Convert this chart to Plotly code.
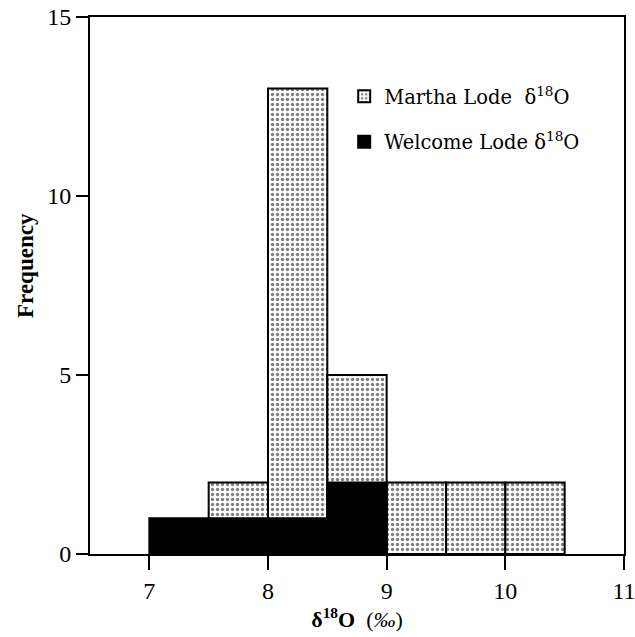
import plotly.graph_objects as go

bin_centers_martha = [7.75, 8.25, 8.75, 9.25, 9.75, 10.25]
martha_counts = [2, 13, 5, 2, 2, 2]
bin_centers_welcome = [7.25, 7.75, 8.25, 8.75]
welcome_counts = [1, 1, 1, 2]
bin_width = 0.5
x_ticks = [7, 8, 9, 10, 11]
y_ticks = [0, 5, 10, 15]

FONT = "Liberation Serif, Times New Roman, serif"
LFONT = "DejaVu Serif, serif"

fig = go.Figure()
fig.add_trace(go.Bar(
    x=bin_centers_martha, y=martha_counts, width=bin_width,
    name="Martha Lode  δ<sup>18</sup>O", legendgroup="m",
    marker=dict(color="white", line=dict(color="black", width=2),
                pattern=dict(shape=".", fgcolor="black", bgcolor="white", size=5, solidity=0.35)),
))
fig.add_trace(go.Bar(
    x=bin_centers_welcome, y=welcome_counts, width=bin_width,
    name="Welcome Lode δ<sup>18</sup>O", legendgroup="w",
    marker=dict(color="black", line=dict(color="black", width=2)),
))

fig.update_layout(
    width=635, height=637,
    barmode="overlay",
    plot_bgcolor="white", paper_bgcolor="white",
    margin=dict(l=90, r=11, t=17, b=83, autoexpand=False),
    font=dict(family=FONT, color="black", size=20),
    showlegend=True,
    legend=dict(x=0.476, y=0.888, xanchor="left", yanchor="top",
                font=dict(family=LFONT, size=19.5), bgcolor="rgba(0,0,0,0)",
                traceorder="grouped", tracegroupgap=17),
    xaxis=dict(range=[6.5, 11], tickvals=x_ticks, ticks="outside", ticklen=14, tickwidth=2,
               tickcolor="black", showline=True, linecolor="black", linewidth=2, mirror=True,
               showgrid=False, zeroline=False, automargin=False, ticklabeloverflow="allow",
               title=dict(text="<b>δ<sup>18</sup>O</b>  (<i>‰</i>)", font=dict(size=22), standoff=8),
               tickfont=dict(size=24)),
    yaxis=dict(range=[0, 15], tickvals=y_ticks, ticks="outside", ticklen=12, tickwidth=2,
               tickcolor="black", showline=True, linecolor="black", linewidth=2, mirror=True,
               showgrid=False, zeroline=False, automargin=False, ticklabeloverflow="allow",
               tickfont=dict(size=24)),
    annotations=[dict(text="<b>Frequency</b>", textangle=-90, xref="paper", yref="paper",
                      x=-0.122, y=0.538, xanchor="center", yanchor="middle", showarrow=False,
                      font=dict(family=FONT, size=23))],
)

fig.write_html("out.html", config={"displayModeBar": False},
               post_script="document.body.style.margin='0px';")
